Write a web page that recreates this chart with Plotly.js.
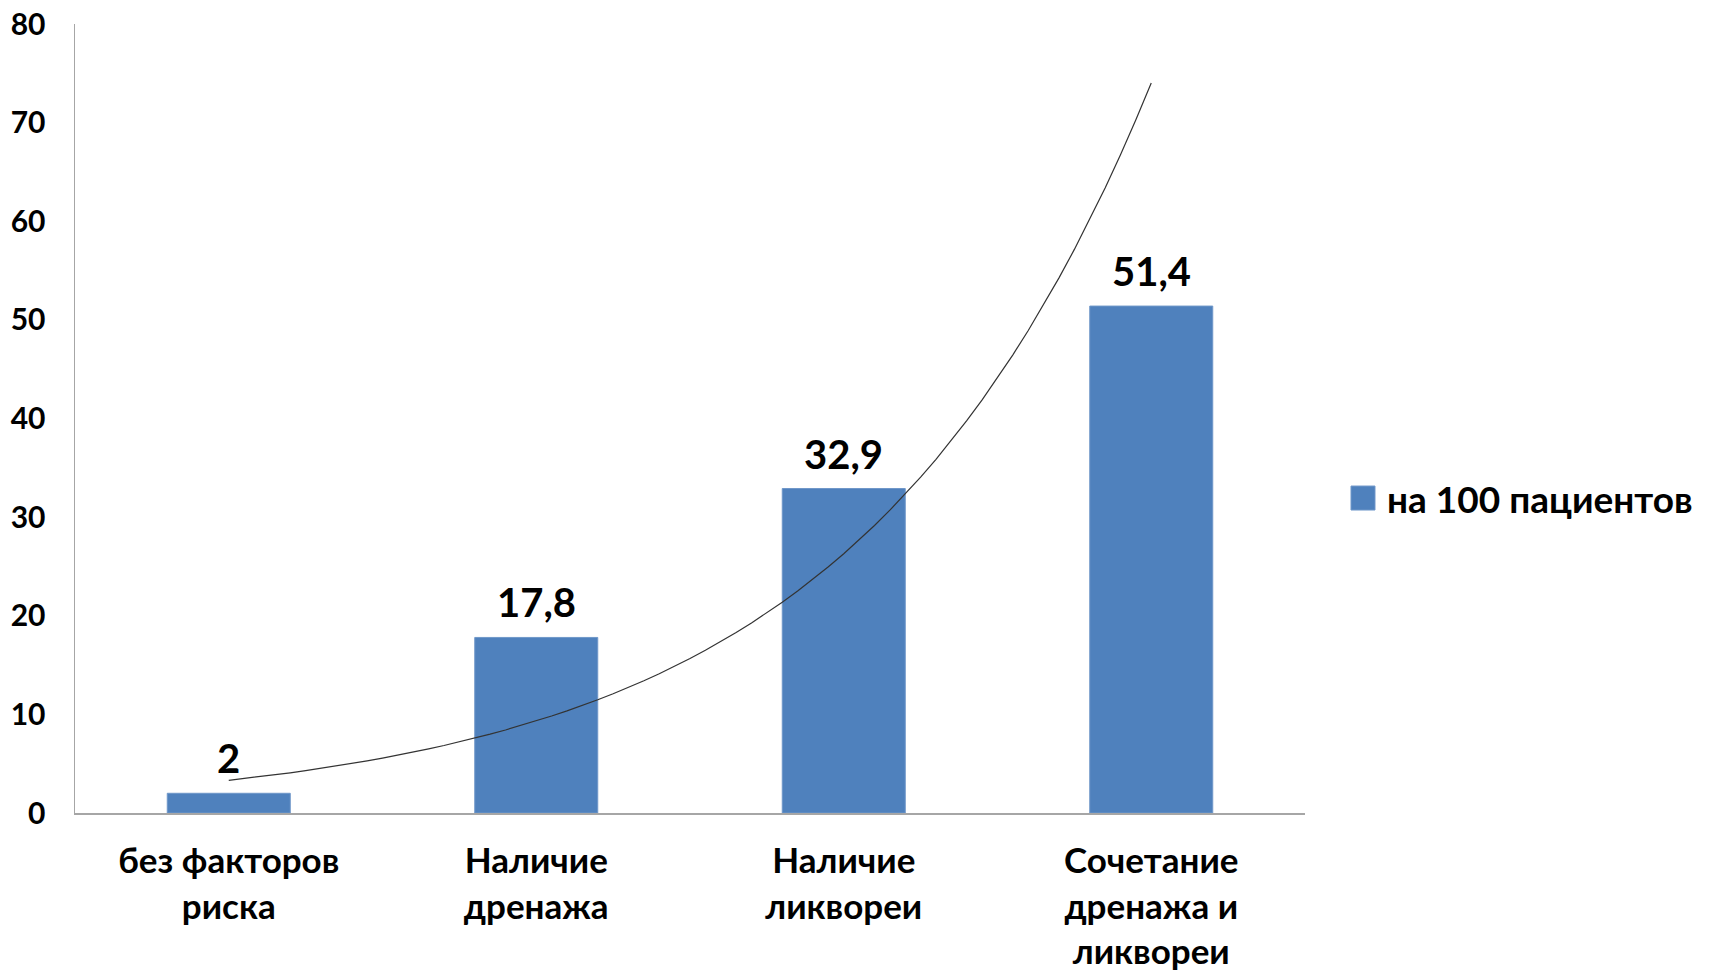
<!DOCTYPE html>
<html>
<head>
<meta charset="utf-8">
<script src="https://cdn.plot.ly/plotly-3.0.1.min.js"></script>
<style>
html, body { margin: 0; padding: 0; background: #fff; }
#chart { width: 1709px; height: 978px; }
</style>
</head>
<body>
<div id="chart"></div>
<script>
// ---- data ----
const categories = ["без факторов<br>риска", "Наличие<br>дренажа", "Наличие<br>ликвореи", "Сочетание<br>дренажа и<br>ликвореи"];
const positions = [1, 2, 3, 4];
const values = [2, 17.8, 32.9, 51.4];
const valueLabels = ["2", "17,8", "32,9", "51,4"];
const seriesName = "на 100 пациентов";
const yTicks = [0, 10, 20, 30, 40, 50, 60, 70, 80];

// ---- exponential trendline (least-squares fit of ln(y) on x, as in Excel) ----
const n = positions.length;
const lnY = values.map(v => Math.log(v));
const mx = positions.reduce((a, b) => a + b, 0) / n;
const my = lnY.reduce((a, b) => a + b, 0) / n;
let sxy = 0, sxx = 0;
for (let i = 0; i < n; i++) { sxy += (positions[i] - mx) * (lnY[i] - my); sxx += (positions[i] - mx) ** 2; }
const b = sxy / sxx;
const lnA = my - b * mx;
const trendX = [], trendY = [];
for (let k = 0; k <= 60; k++) {
  const x = positions[0] + (positions[n - 1] - positions[0]) * k / 60;
  trendX.push(x);
  trendY.push(Math.exp(lnA + b * x));
}

const FONT = "Lato, 'Open Sans', sans-serif";

const traces = [
  {
    type: "bar",
    x: positions,
    y: values,
    name: seriesName,
    width: 0.4,
    marker: { color: "#4F81BD", line: { color: "#6f97c9", width: 1 } },
    hoverinfo: "skip",
    showlegend: false
  },
  {
    type: "scatter",
    mode: "lines",
    x: trendX,
    y: trendY,
    line: { color: "#333333", width: 1.2 },
    hoverinfo: "skip",
    showlegend: false
  }
];

const dataLabels = positions.map((p, i) => ({
  x: p, y: values[i], xref: "x", yref: "y",
  text: valueLabels[i], showarrow: false,
  xanchor: "center", yanchor: "bottom", yshift: 9,
  font: { family: FONT, size: 40, weight: 700, color: "#000" }
}));

const layout = {
  width: 1709,
  height: 978,
  paper_bgcolor: "#ffffff",
  plot_bgcolor: "#ffffff",
  separators: ", ",
  margin: { l: 75, r: 404, t: 24, b: 165 },
  xaxis: {
    type: "linear",
    range: [0.5, 4.5],
    tickmode: "array",
    tickvals: positions,
    ticktext: categories,
    showgrid: false,
    zeroline: false,
    showline: true,
    linecolor: "#a6a6a6",
    linewidth: 2,
    ticks: "",
    ticklabelstandoff: 16,
    tickfont: { family: FONT, size: 35, weight: 700, color: "#000" }
  },
  yaxis: {
    range: [0, 80],
    tickmode: "array",
    tickvals: yTicks,
    showgrid: false,
    zeroline: false,
    showline: true,
    linecolor: "#a6a6a6",
    linewidth: 1.5,
    ticks: "",
    ticklabelstandoff: 22,
    tickfont: { family: FONT, size: 30, weight: 700, color: "#000" }
  },
  showlegend: false,
  shapes: [
    { type: "rect", xref: "paper", yref: "paper",
      x0: 1.0374, x1: 1.0569, y0: 0.384, y1: 0.4144,
      fillcolor: "#4F81BD", line: { color: "#6f97c9", width: 1 } }
  ],
  annotations: dataLabels.concat([
    { xref: "paper", yref: "paper", x: 1.0650, y: 0.399,
      xanchor: "left", yanchor: "middle", showarrow: false,
      text: seriesName,
      font: { family: FONT, size: 37, weight: 700, color: "#000" } }
  ])
};

Plotly.newPlot("chart", traces, layout, { displayModeBar: false, staticPlot: true });
</script>
</body>
</html>
